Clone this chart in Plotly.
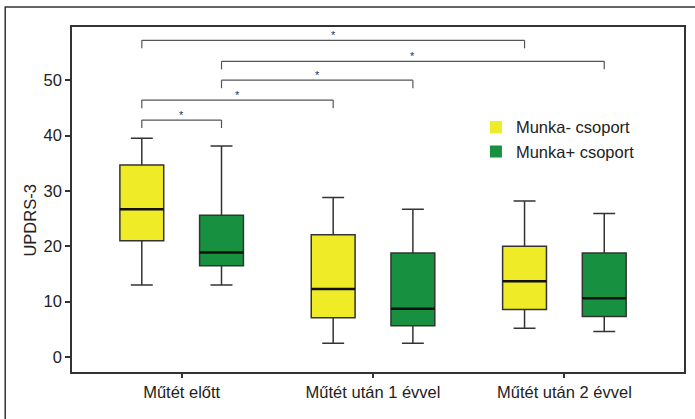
import plotly.graph_objects as go

categories = ["Műtét előtt", "Műtét után 1 évvel", "Műtét után 2 évvel"]
series_names = ["Munka- csoport", "Munka+ csoport"]

# box statistics per series (one value per category)
minus_low = [13.0, 2.5, 5.2]
minus_q1 = [21.0, 7.1, 8.6]
minus_med = [26.7, 12.3, 13.7]
minus_q3 = [34.7, 22.1, 20.0]
minus_high = [39.5, 28.8, 28.2]

plus_low = [13.0, 2.5, 4.6]
plus_q1 = [16.5, 5.65, 7.3]
plus_med = [18.9, 8.7, 10.6]
plus_q3 = [25.6, 18.8, 18.8]
plus_high = [38.1, 26.7, 25.9]

y_ticks = [0, 10, 20, 30, 40, 50]

# significance brackets: (category_a, series_a, category_b, series_b, level, label)
brackets = [
    (0, 0, 2, 0, 57.2, "*"),
    (0, 1, 2, 1, 53.4, "*"),
    (0, 1, 1, 1, 50.0, "*"),
    (0, 0, 1, 0, 46.4, "*"),
    (0, 0, 0, 1, 42.8, "*"),
]
drop = 1.45

colors = ["#F0EB27", "#17903F"]
BOXGAP = 0.167
BOXGROUPGAP = 0.45
FONT = "Liberation Sans, Arial, sans-serif"
AXC = "#333333"

fig = go.Figure()
stats = [
    (minus_low, minus_q1, minus_med, minus_q3, minus_high),
    (plus_low, plus_q1, plus_med, plus_q3, plus_high),
]
for i, (lo, q1, med, q3, hi) in enumerate(stats):
    fig.add_trace(go.Box(
        x=categories, q1=q1, median=med, q3=q3, lowerfence=lo, upperfence=hi,
        name=series_names[i], fillcolor=colors[i], boxpoints=False,
        line=dict(color=AXC, width=1.5), whiskerwidth=0.5,
        showlegend=False, offsetgroup=str(i), hoverinfo="skip",
    ))
    fig.add_trace(go.Scatter(
        x=[None], y=[None], mode="markers", name=series_names[i],
        marker=dict(symbol="square", size=13, color=colors[i]),
    ))

# geometry of grouped boxes in category units
slot = (1 - BOXGAP) / 2
offsets = [-slot / 2, slot / 2]
half_w = slot * (1 - BOXGROUPGAP) / 2

shapes = []
# thicker median lines
for i, (lo, q1, med, q3, hi) in enumerate(stats):
    for c in range(len(categories)):
        xc = c + offsets[i]
        shapes.append(dict(type="line", xref="x", yref="y",
                           x0=xc - half_w, x1=xc + half_w, y0=med[c], y1=med[c],
                           line=dict(color="#111111", width=2.5)))

annotations = []
for ca, sa, cb, sb, lvl, lab in brackets:
    xa = ca + offsets[sa]
    xb = cb + offsets[sb]
    lc = dict(color="#555555", width=1.2)
    shapes.append(dict(type="line", xref="x", yref="y", x0=xa, x1=xb, y0=lvl, y1=lvl, line=lc))
    shapes.append(dict(type="line", xref="x", yref="y", x0=xa, x1=xa, y0=lvl, y1=lvl - drop, line=lc))
    shapes.append(dict(type="line", xref="x", yref="y", x0=xb, x1=xb, y0=lvl, y1=lvl - drop, line=lc))
    annotations.append(dict(x=(xa + xb) / 2, y=lvl, xref="x", yref="y", text=lab,
                            showarrow=False, yanchor="bottom", yshift=-3,
                            font=dict(size=11, color="#333333", family=FONT)))

# outer frame (open at bottom and right)
shapes.append(dict(type="path", xref="paper", yref="paper",
                   path="M -0.1091 -0.3 L -0.1091 1.058 L 1.1 1.058",
                   line=dict(color=AXC, width=1.5)))

annotations.append(dict(x=-0.068, y=0.44, xref="paper", yref="paper", text="UPDRS-3",
                        textangle=-90, showarrow=False, xanchor="center", yanchor="middle",
                        font=dict(size=16.5, color="#222222", family=FONT)))

fig.update_layout(
    width=695, height=419,
    margin=dict(l=72, r=9, t=27, b=47),
    paper_bgcolor="white", plot_bgcolor="white",
    boxmode="group", boxgap=BOXGAP, boxgroupgap=BOXGROUPGAP,
    font=dict(family=FONT, size=16.5, color="#222222"),
    shapes=shapes, annotations=annotations,
    legend=dict(x=0.66, y=0.76, xanchor="left", yanchor="top",
                bgcolor="rgba(0,0,0,0)", font=dict(size=16.5, color="#222222"),
                tracegroupgap=0, itemsizing="constant"),
    showlegend=True,
)
fig.update_xaxes(
    type="category", categoryorder="array", categoryarray=categories,
    range=[-0.573, 2.625], showline=True, mirror=True, linecolor=AXC, linewidth=1.5,
    ticks="outside", ticklen=4, tickcolor=AXC, tickwidth=1.5, showgrid=False,
    zeroline=False, fixedrange=True,
)
fig.update_yaxes(
    range=[-2.7, 59.6], tickvals=y_ticks, showline=True, mirror=True, linecolor=AXC,
    linewidth=1.5, ticks="outside", ticklen=5, tickcolor=AXC, tickwidth=1.5,
    showgrid=False, zeroline=False, fixedrange=True,
)

fig.write_html(
    "out.html",
    config={"displayModeBar": False},
    post_script="document.body.style.margin='0';document.body.style.padding='0';document.body.style.overflow='hidden';",
)
